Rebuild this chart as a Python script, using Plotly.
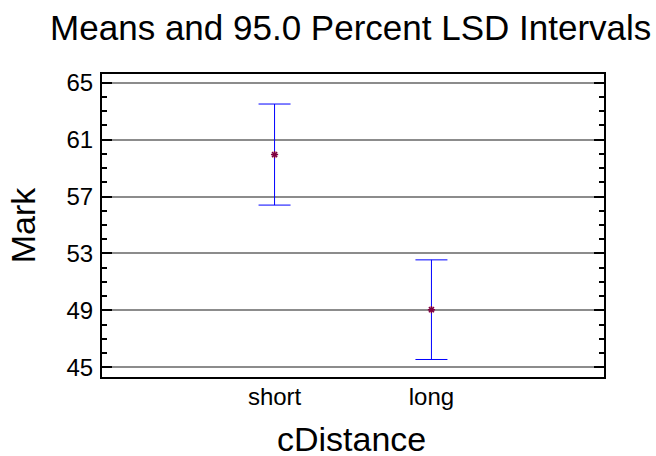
import plotly.graph_objects as go

# Data
categories = ["short", "long"]
means = [59.95, 49.05]
lsd_half = [3.55, 3.5]
y_tickvals = [45, 49, 53, 57, 61, 65]
x_title = "cDistance"
y_title = "Mark"
chart_title = "Means and 95.0 Percent LSD Intervals"

FONT = "Liberation Sans, Arial, sans-serif"

fig = go.Figure()
fig.add_trace(go.Scatter(
    x=categories,
    y=means,
    mode="markers",
    marker=dict(symbol="asterisk-open", size=6, color="#800040",
                line=dict(color="#800040", width=1.5)),
    error_y=dict(type="data", array=lsd_half, symmetric=True,
                 color="#0000FF", thickness=1, width=16),
    showlegend=False,
))

fig.update_layout(
    width=656, height=456,
    paper_bgcolor="white", plot_bgcolor="white",
    margin=dict(l=102, r=52, t=74, b=79, autoexpand=False),
    font=dict(family=FONT, color="black"),
    title=dict(text=chart_title,
               font=dict(family=FONT, size=35, color="black"),
               xref="container", x=0.5346, xanchor="center",
               yref="container", y=0.94, yanchor="middle",
               automargin=False),
    annotations=[dict(text=x_title, xref="paper", yref="paper",
                      x=0.497, y=-0.205, xanchor="center", yanchor="middle",
                      showarrow=False,
                      font=dict(family=FONT, size=34, color="black"))],
)

fig.update_xaxes(
    type="category",
    range=[-1.1, 2.1],
    automargin=False,
    showline=True, linecolor="black", linewidth=2, mirror=True,
    showgrid=False, ticks="", zeroline=False,
    tickfont=dict(family=FONT, size=24, color="black"),
    ticklabelstandoff=-3,
)

fig.update_yaxes(
    range=[44.32, 65.61],
    automargin=False,
    tickmode="array", tickvals=y_tickvals,
    ticktext=[str(v) for v in y_tickvals],
    showline=True, linecolor="black", linewidth=2, mirror="ticks",
    ticks="inside", ticklen=10, tickwidth=2, tickcolor="black",
    showgrid=True, gridcolor="#8c8c8c", gridwidth=1.5,
    zeroline=False,
    minor=dict(dtick=1, tick0=45, ticks="inside", ticklen=5, tickwidth=2,
               tickcolor="black", showgrid=False),
    tickfont=dict(family=FONT, size=24, color="black"),
    ticklabelstandoff=2,
    title=dict(text=y_title, font=dict(family=FONT, size=34, color="black"), standoff=21),
)

fig.write_html("out.html", config={"displayModeBar": False},
               post_script="document.body.style.margin='0px';")
